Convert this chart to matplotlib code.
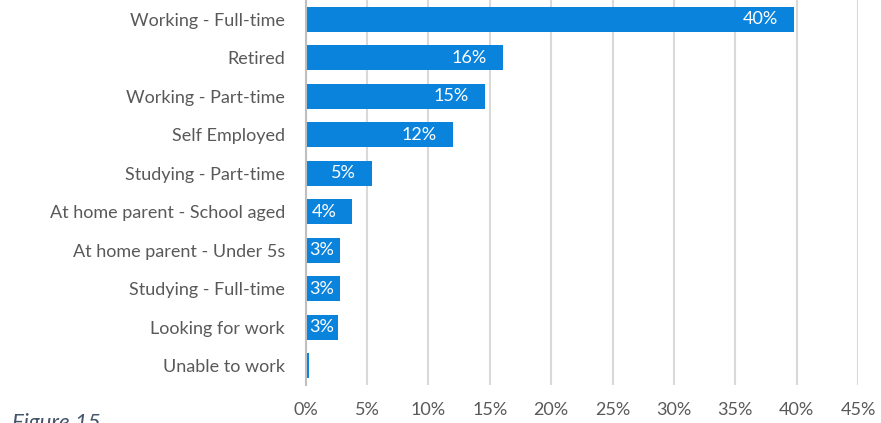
"""Employment status bar chart"""

# Matplotlib
from matplotlib import pyplot as plt
from matplotlib.ticker import FuncFormatter


categories = [
    'Working - Full-time',
    'Retired',
    'Working - Part-time',
    'Self Employed',
    'Studying - Part-time',
    'At home parent - School aged',
    'At home parent - Under 5s',
    'Studying - Full-time',
    'Looking for work',
    'Unable to work',
]
shares = [39.8, 16.05, 14.6, 12.0, 5.4, 3.8, 2.8, 2.8, 2.6, 0.25]
x_ticks = [0, 5, 10, 15, 20, 25, 30, 35, 40, 45]

bar_color = '#0A83DC'
text_color = '#595959'
grid_color = '#D9D9D9'


def generate_plot():
    """Draw the horizontal bar chart"""
    plt.rcParams['font.family'] = ['Lato', 'DejaVu Sans']
    fig = plt.figure(figsize=(8.81, 4.23), dpi=100)
    ax = fig.add_axes([0.347, 0.0898, 0.627, 0.9102])

    rows = list(range(len(categories)))
    ax.barh(rows, shares, height=0.65, color=bar_color, zorder=3)

    # value labels sit inside the end of each bar
    for row, value in zip(rows, shares):
        if value < 1:
            continue
        ax.text(max(value - 1.3, 2.3), row, f'{value:.0f}%',
                ha='right', va='center', color='white', fontsize=13,
                zorder=4)

    ax.set_xlim(0, 45)
    ax.set_ylim(len(categories) - 0.5, -0.5)
    ax.set_xticks(x_ticks)
    ax.xaxis.set_major_formatter(FuncFormatter(lambda v, _: f'{v:.0f}%'))
    ax.set_yticks(rows)
    ax.set_yticklabels(categories)
    ax.tick_params(axis='both', length=0, colors=text_color, labelsize=13)
    ax.tick_params(axis='x', pad=12)
    ax.tick_params(axis='y', pad=15)

    ax.grid(axis='x', color=grid_color, linewidth=1.5, zorder=0)
    for side in ['top', 'right', 'bottom']:
        ax.spines[side].set_visible(False)
    ax.spines['left'].set_color('#BFBFBF')
    ax.spines['left'].set_linewidth(1.5)
    ax.spines['left'].set_zorder(5)

    fig.text(0.014, 0.0, 'Figure 15', fontsize=16, style='italic',
             color='#44546A', ha='left', va='center')

    fig.savefig('out.png', dpi=100)


if __name__ == '__main__':
    generate_plot()
